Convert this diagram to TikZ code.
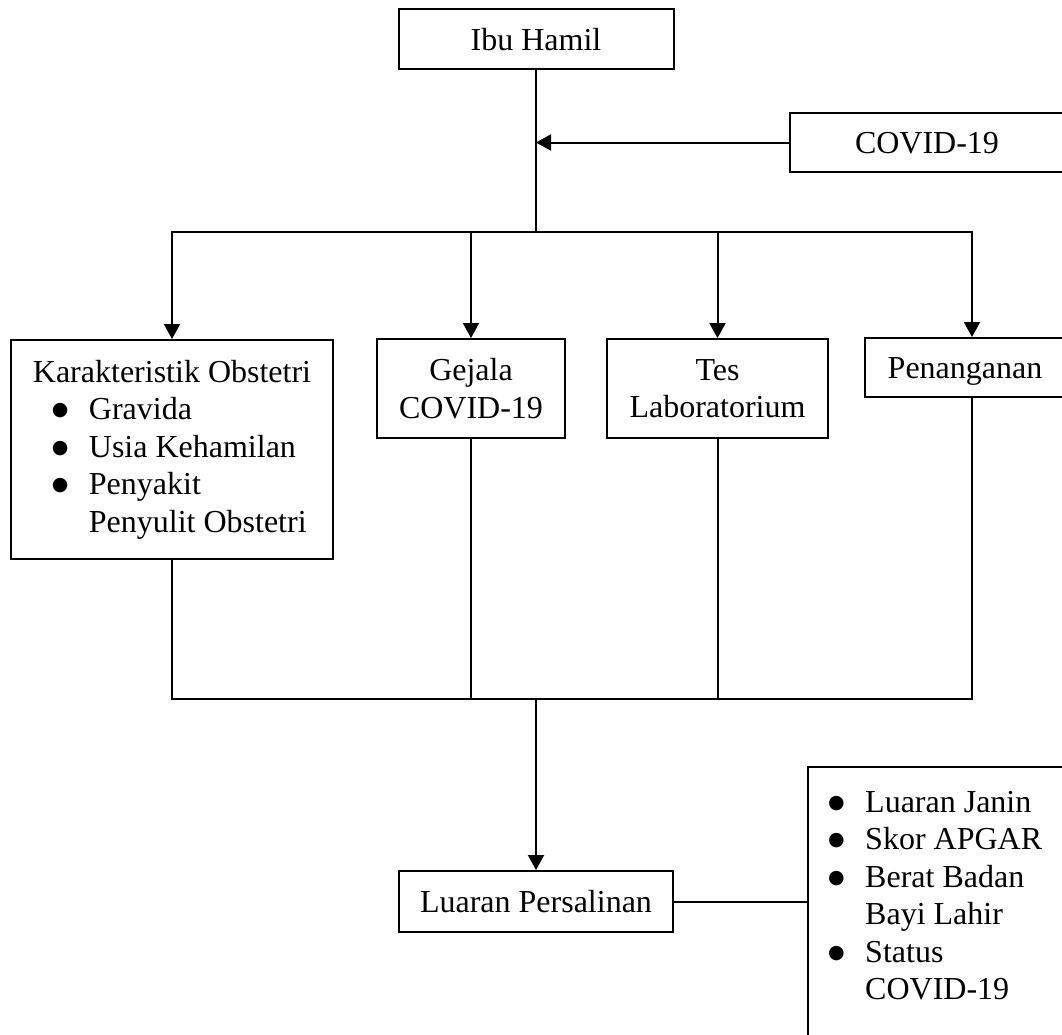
\documentclass[tikz,border=0pt]{standalone}
\usepackage{fontspec}
\setmainfont{Liberation Serif}
\newfontfamily\symfont{DejaVu Sans}
\usetikzlibrary{arrows.meta}
% round bullet followed by a fixed indent for the item text
\newcommand\bulitem{\makebox[36pt][l]{\hspace*{-1pt}\raisebox{4pt}{\symfont\fontsize{19pt}{19pt}\selectfont ●}}}
\begin{document}
\begin{tikzpicture}[x=1pt,y=-1pt,
  every node/.style={font=\fontsize{32pt}{37.5pt}\selectfont},
  kotak/.style={draw, line width=2pt, rectangle, inner sep=0pt, align=center},
  satubaris/.style={text height=22pt, text depth=0pt},
  garis/.style={line width=2pt, line cap=rect},
  panah/.style={line width=2pt, -{Triangle[length=15pt,width=16pt]}}]

\useasboundingbox (0,0) rectangle (1062,1034);
\clip (0,0) rectangle (1062,1034);

% boxes
\node[kotak, satubaris, minimum width=275pt, minimum height=60pt] (ibu) at (536,39) {Ibu Hamil};
\node[kotak, satubaris, minimum width=274pt, minimum height=59pt] (covid) at (927,142.5) {COVID-19};
\node[kotak, minimum width=322pt, minimum height=219pt, align=left] (karak) at (172,449.5)
  {Karakteristik Obstetri\\
   \hspace*{20pt}\bulitem Gravida\\
   \hspace*{20pt}\bulitem Usia Kehamilan\\
   \hspace*{20pt}\bulitem Penyakit\\
   \hspace*{56pt}Penyulit Obstetri};
\node[kotak, minimum width=188pt, minimum height=99pt] (gejala) at (471,388.5) {Gejala\\COVID-19};
\node[kotak, minimum width=221pt, minimum height=99pt] (tes) at (717.5,388.5) {Tes\\Laboratorium};
\node[kotak, satubaris, minimum width=200pt, minimum height=59pt] (tangan) at (965,367.5) {Penanganan};
\node[kotak, satubaris, minimum width=274pt, minimum height=61pt] (luaran) at (536,901.5) {Luaran Persalinan};
\node[kotak, minimum width=330pt, minimum height=300pt, anchor=north west] (hasil) at (807,766) {};
\node[anchor=north west, inner xsep=22pt, inner ysep=25pt, align=left] (hasilteks) at (hasil.north west)
  {\bulitem Luaran Janin\\
   \bulitem Skor APGAR\\
   \bulitem Berat Badan\\
   \hspace*{36pt}Bayi Lahir\\
   \bulitem Status\\
   \hspace*{36pt}COVID-19};

% branching points
\coordinate (atas) at (536,232);
\coordinate (kiri) at (172,232);
\coordinate (kanan) at (972,232);
\coordinate (bawahkiri) at (172,699);
\coordinate (bawahkanan) at (972,699);
\coordinate (bawah) at (536,699);

% connectors
\draw[garis] (ibu.south) -- (atas);
\draw[panah] (covid.west) -- (covid.west -| ibu.south);
\draw[garis] (kiri) -- (kanan);
\draw[panah] (kiri) -- (karak.north);
\draw[panah] (gejala.north |- kiri) -- (gejala.north);
\draw[panah] (tes.north |- kiri) -- (tes.north);
\draw[panah] (kanan) -- (kanan |- tangan.north);
\draw[garis] (karak.south) -- (bawahkiri);
\draw[garis] (gejala.south) -- (gejala.south |- bawah);
\draw[garis] (tes.south) -- (tes.south |- bawah);
\draw[garis] (kanan |- tangan.south) -- (bawahkanan);
\draw[garis] (bawahkiri) -- (bawahkanan);
\draw[panah] (bawah) -- (luaran.north);
\draw[garis] (luaran.east) -- (luaran.east -| hasil.west);
\end{tikzpicture}
\end{document}
